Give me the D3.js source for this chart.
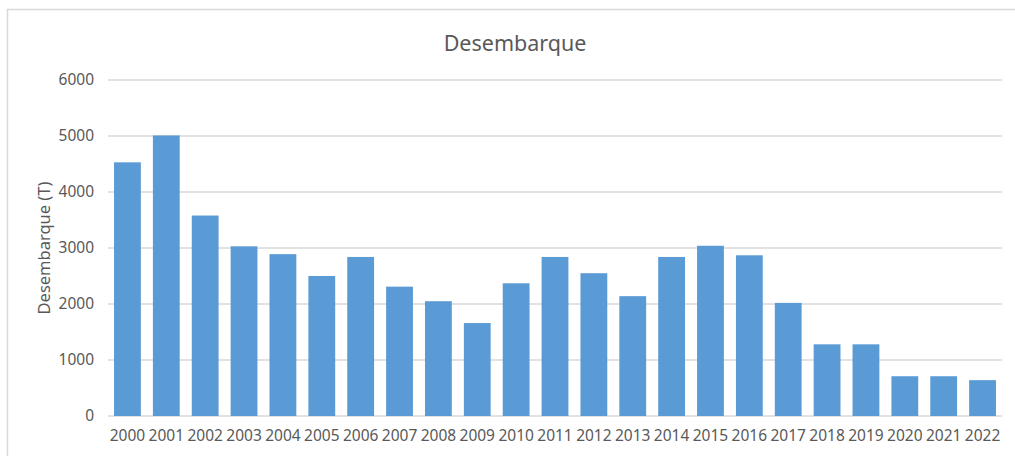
<!DOCTYPE html>
<html lang="pt">
<head>
    <meta charset="utf-8">
    <title>Desembarque</title>
    <script src="https://d3js.org/d3.v7.min.js"></script>
    <style>
        body {
            margin: 0;
            background: #fff;
            font-family: "Noto Sans", "Open Sans", sans-serif;
        }
        svg {
            display: block;
        }
        .grid line {
            stroke: #d9d9d9;
            stroke-width: 1.3;
        }
        .axis text {
            fill: #595959;
            font-family: "Noto Sans", "Open Sans", sans-serif;
            font-size: 15.5px;
        }
    </style>
</head>
<body>
    <svg id="chart" width="1015" height="456"></svg>

    <script>
        // Data (tonnes per year)
        const years = ["2000", "2001", "2002", "2003", "2004", "2005", "2006", "2007",
            "2008", "2009", "2010", "2011", "2012", "2013", "2014", "2015",
            "2016", "2017", "2018", "2019", "2020", "2021", "2022"];
        const landings = [4530, 5010, 3580, 3030, 2890, 2500, 2840, 2310,
            2050, 1660, 2370, 2840, 2550, 2140, 2840, 3040,
            2870, 2020, 1280, 1280, 710, 710, 640];
        const yTicks = [0, 1000, 2000, 3000, 4000, 5000, 6000];

        const width = 1015, height = 456;
        const plot = { left: 108, right: 1002, top: 80, bottom: 416 };

        const svg = d3.select("#chart");

        // chart frame (only left and top edges are visible in the crop)
        svg.append("path")
            .attr("d", `M7.5,${height} V9.5 H${width}`)
            .attr("fill", "none")
            .attr("stroke", "#d9d9d9")
            .attr("stroke-width", 1.5);

        const x = d3.scaleBand()
            .domain(years)
            .range([plot.left, plot.right])
            .paddingInner(0.31)
            .paddingOuter(0.155);

        const y = d3.scaleLinear()
            .domain([0, 6000])
            .range([plot.bottom, plot.top]);

        // gridlines
        svg.append("g")
            .attr("class", "grid")
            .selectAll("line")
            .data(yTicks)
            .enter().append("line")
            .attr("x1", plot.left)
            .attr("x2", plot.right)
            .attr("y1", d => y(d))
            .attr("y2", d => y(d));

        // bars
        svg.append("g")
            .selectAll("rect")
            .data(landings)
            .enter().append("rect")
            .attr("x", (d, i) => x(years[i]))
            .attr("y", d => y(d))
            .attr("width", x.bandwidth())
            .attr("height", d => y(0) - y(d))
            .attr("fill", "#5b9bd5");

        // y axis labels
        const yAxis = d3.axisLeft(y).tickValues(yTicks).tickFormat(d3.format("d"))
            .tickSize(0).tickPadding(14);
        svg.append("g")
            .attr("class", "axis")
            .attr("transform", `translate(${plot.left},0)`)
            .call(yAxis)
            .call(g => g.select(".domain").remove());

        // x axis labels
        const xAxis = d3.axisBottom(x).tickSize(0).tickPadding(14);
        svg.append("g")
            .attr("class", "axis")
            .attr("transform", `translate(0,${plot.bottom})`)
            .call(xAxis)
            .call(g => g.select(".domain").remove());

        // title
        svg.append("text")
            .attr("x", 515)
            .attr("y", 51)
            .attr("text-anchor", "middle")
            .attr("fill", "#595959")
            .attr("font-size", "21.5px")
            .text("Desembarque");

        // y axis title
        svg.append("text")
            .attr("transform", "translate(50,248) rotate(-90)")
            .attr("text-anchor", "middle")
            .attr("fill", "#595959")
            .attr("font-size", "16.5px")
            .text("Desembarque (T)");
    </script>
</body>
</html>
